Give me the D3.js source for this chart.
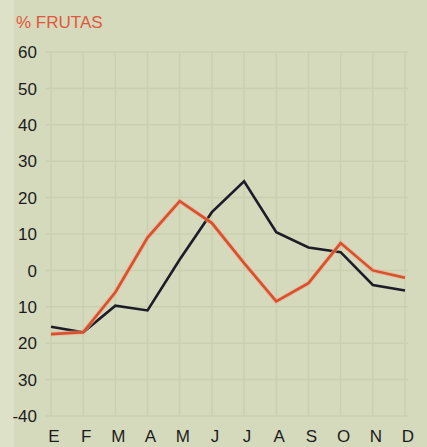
<!DOCTYPE html>
<html>
<head>
<meta charset="utf-8">
<script src="https://cdn.jsdelivr.net/npm/d3@7"></script>
<style>
  body { margin: 0; background: #d5dabd; }
  svg { display: block; }
</style>
</head>
<body>
<div id="chart"></div>
<script>
const months = ["E", "F", "M", "A", "M", "J", "J", "A", "S", "O", "N", "D"];
const tickValues = [60, 50, 40, 30, 20, 10, 0, -10, -20, -30, -40];
const tickLabels = ["60", "50", "40", "30", "20", "10", "0", "10", "20", "30", "-40"];
const redSeries = [-17.5, -17, -6, 9, 19, 13, 2, -8.5, -3.5, 7.5, 0, -2];
const blackSeries = [-15.5, -17, -9.7, -11, 3, 16, 24.5, 10.5, 6.3, 5, -4, -5.5];

const W = 427, H = 447;

const svg = d3.select("#chart")
    .append("svg")
    .attr("width", W)
    .attr("height", H);

svg.append("rect")
    .attr("width", W)
    .attr("height", H)
    .attr("fill", "#d5dabd");

// slightly lighter strip on the left edge
svg.append("rect")
    .attr("width", 14)
    .attr("height", H)
    .attr("fill", "#dde1c8");

const x = d3.scalePoint()
    .domain(d3.range(months.length))
    .range([51, 405]);

const y = d3.scaleLinear()
    .domain([-40, 60])
    .range([416, 52]);

// grid (very faint, as printed)
const grid = svg.append("g")
    .attr("stroke", "#cad0af")
    .attr("stroke-width", 1.5);

grid.selectAll("line.h")
    .data(tickValues)
    .enter()
    .append("line")
    .attr("x1", 46)
    .attr("x2", 408)
    .attr("y1", d => y(d))
    .attr("y2", d => y(d));

grid.selectAll("line.v")
    .data(d3.range(months.length))
    .enter()
    .append("line")
    .attr("x1", d => x(d))
    .attr("x2", d => x(d))
    .attr("y1", y(60))
    .attr("y2", y(-40));

// y labels
svg.append("g")
    .selectAll("text")
    .data(tickValues)
    .enter()
    .append("text")
    .attr("x", 37)
    .attr("y", d => y(d))
    .attr("dy", "0.36em")
    .attr("text-anchor", "end")
    .style("font-family", "'Liberation Sans', Arial, sans-serif")
    .style("font-size", "17px")
    .style("fill", "#1c1c1c")
    .text((d, i) => tickLabels[i]);

// x labels
svg.append("g")
    .selectAll("text")
    .data(months)
    .enter()
    .append("text")
    .attr("x", (d, i) => x(i) + 3)
    .attr("y", 442)
    .attr("text-anchor", "middle")
    .style("font-family", "'Liberation Sans', Arial, sans-serif")
    .style("font-size", "17px")
    .style("fill", "#1c1c1c")
    .text(d => d);

// title
svg.append("text")
    .attr("x", 16)
    .attr("y", 28)
    .style("font-family", "'Liberation Sans Narrow', 'Liberation Sans', sans-serif")
    .style("font-size", "17px")
    .style("fill", "#e0583c")
    .text("%  FRUTAS");

const line = d3.line()
    .x((d, i) => x(i))
    .y(d => y(d));

svg.append("path")
    .datum(blackSeries)
    .attr("d", line)
    .attr("fill", "none")
    .attr("stroke", "#1d1d28")
    .attr("stroke-width", 2.6)
    .attr("stroke-linejoin", "miter");

svg.append("path")
    .datum(redSeries)
    .attr("d", line)
    .attr("fill", "none")
    .attr("stroke", "#f0a58a")
    .attr("stroke-width", 4.5)
    .attr("opacity", 0.6);

svg.append("path")
    .datum(redSeries)
    .attr("d", line)
    .attr("fill", "none")
    .attr("stroke", "#d8502c")
    .attr("stroke-width", 2.6);
</script>
</body>
</html>
